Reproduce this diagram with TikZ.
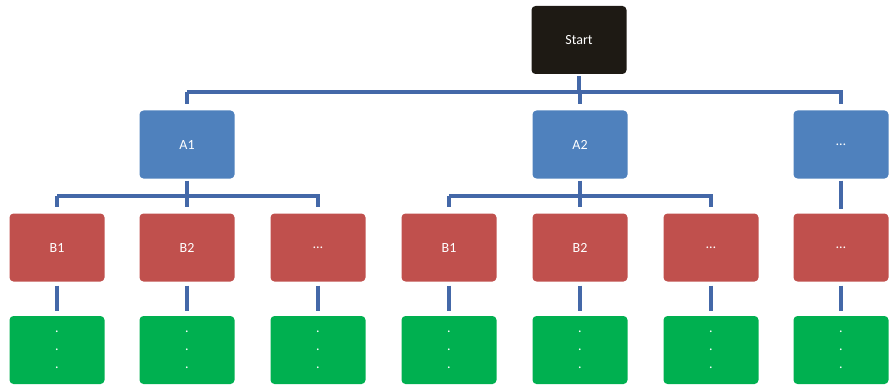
\documentclass[tikz,border=0pt]{standalone}
\usepackage{fontspec}
\setmainfont{Carlito}
\usetikzlibrary{calc}

\definecolor{boxblack}{RGB}{30,26,20}
\definecolor{boxblue}{RGB}{79,129,189}
\definecolor{boxred}{RGB}{192,80,77}
\definecolor{boxgreen}{RGB}{0,176,80}
\definecolor{linkblue}{RGB}{68,104,168}

\begin{document}
\begin{tikzpicture}[x=1pt, y=-1pt,
		box/.style={rounded corners=4pt, minimum width=95pt, minimum height=68pt,
			inner sep=0pt, text=white, font=\fontsize{14}{18}\selectfont, align=center},
		link/.style={draw=linkblue, line width=3.2pt, shorten <=2pt, shorten >=6pt}]

	\useasboundingbox (0,0) rectangle (893,385);

	\coordinate(bus1) at (0, 92);
	\coordinate(bus2) at (0, 196);

	\node[box, fill=boxblack] (start) at (579, 40) {Start};

	\node[box, fill=boxblue] (a1) at (187, 144.5) {A1};
	\node[box, fill=boxblue] (a2) at (580, 144.5) {A2};
	\node[box, fill=boxblue] (a3) at (841, 144.5) {\dots};

	\node[box, fill=boxred] (b1) at (57, 247.5) {B1};
	\node[box, fill=boxred] (b2) at (187, 247.5) {B2};
	\node[box, fill=boxred] (b3) at (318, 247.5) {\dots};
	\node[box, fill=boxred] (b4) at (449, 247.5) {B1};
	\node[box, fill=boxred] (b5) at (580, 247.5) {B2};
	\node[box, fill=boxred] (b6) at (711, 247.5) {\dots};
	\node[box, fill=boxred] (b7) at (841, 247.5) {\dots};

	\foreach \i/\x in {1/57, 2/187, 3/318, 4/449, 5/580, 6/711, 7/841}{
		\node[box, fill=boxgreen] (c\i) at (\x, 350) {.\\.\\.};
	}

	% Start -> A
	\draw[link, shorten >=0pt] (start.south) -- (start.south |- bus1);
	\draw[link, shorten <=0pt] (a1.north |- bus1) -- (a3.north |- bus1) -- (a3.north);
	\draw[link, shorten <=0pt] (a1.north |- bus1) -- (a1.north);
	\draw[link, shorten <=0pt] (a2.north |- bus1) -- (a2.north);

	% A -> B
	\draw[link, shorten >=0pt] (a1.south) -- (a1.south |- bus2);
	\draw[link, shorten <=0pt] (b1.north |- bus2) -- (b3.north |- bus2) -- (b3.north);
	\draw[link, shorten <=0pt] (b1.north |- bus2) -- (b1.north);
	\draw[link, shorten <=0pt] (b2.north |- bus2) -- (b2.north);

	\draw[link, shorten >=0pt] (a2.south) -- (a2.south |- bus2);
	\draw[link, shorten <=0pt] (b4.north |- bus2) -- (b6.north |- bus2) -- (b6.north);
	\draw[link, shorten <=0pt] (b4.north |- bus2) -- (b4.north);
	\draw[link, shorten <=0pt] (b5.north |- bus2) -- (b5.north);

	\draw[link, shorten >=4pt] (a3) -- (b7);

	% B -> C
	\foreach \i in {1,...,7}{
		\draw[link, shorten <=4pt, shorten >=5pt] (b\i.south) -- (c\i.north);
	}
\end{tikzpicture}
\end{document}
